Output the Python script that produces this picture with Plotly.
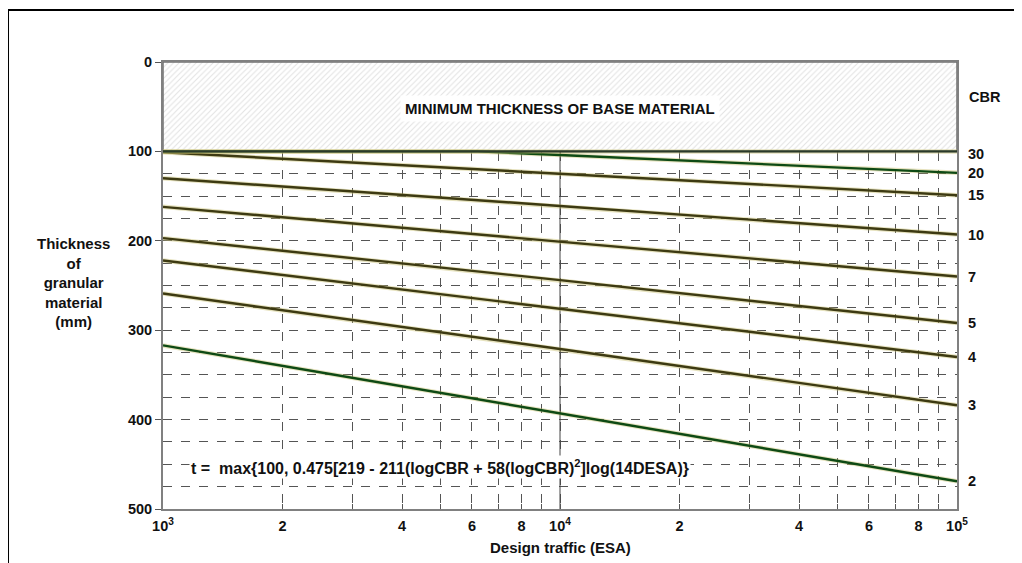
import plotly.graph_objects as go

# ---------------- data ----------------
traffic = [1e3, 1e4, 1e5]                  # design traffic (ESA)
t_cbr2 = [317, 393, 469]
t_cbr3 = [259, 321, 384]
t_cbr4 = [222, 276, 330]
t_cbr5 = [197, 244, 292]
t_cbr7 = [162, 201, 240]
t_cbr10 = [130, 161, 193]
t_cbr15 = [101, 125, 149]
traffic_cbr20 = [1e3, 6.2e3, 1e4, 1e5]
t_cbr20 = [100, 100, 104, 124]
t_cbr30 = [100, 100, 100]

cbr_labels = ["2", "3", "4", "5", "7", "10", "15", "20", "30"]

x_tickvals = [1e3, 2e3, 3e3, 4e3, 5e3, 6e3, 7e3, 8e3, 9e3,
              1e4, 2e4, 3e4, 4e4, 5e4, 6e4, 7e4, 8e4, 9e4, 1e5]
x_ticktext = ["10<sup>3</sup>", "2", "", "4", "", "6", "", "8", "",
              "10<sup>4</sup>", "2", "", "4", "", "6", "", "8", "",
              "10<sup>5</sup>"]
y_tickvals = [0, 100, 200, 300, 400, 500]

MIN_THICKNESS = 100
X_MIN, X_MAX = 1e3, 1e5
Y_MAX = 500
DECADE = 1e4

FONT = "Liberation Sans, Arial, sans-serif"
OLIVE = "#3d3a12"
GREEN = "#0e4a14"
GLOW = "rgba(200,190,110,0.45)"

fig = go.Figure()

# hatched "minimum thickness" zone
fig.add_trace(go.Scatter(
    x=[X_MIN, X_MAX, X_MAX, X_MIN, X_MIN],
    y=[0, 0, MIN_THICKNESS, MIN_THICKNESS, 0],
    mode="lines", fill="toself", fillcolor="white",
    fillpattern=dict(shape="/", fgcolor="#c4c4c4", bgcolor="white",
                     size=4, solidity=0.25),
    line=dict(color="#707070", width=1.5),
    hoverinfo="skip", showlegend=False))

# solid decade grid line at 10^4
fig.add_trace(go.Scatter(
    x=[DECADE, DECADE], y=[MIN_THICKNESS, Y_MAX], mode="lines",
    line=dict(color="#444444", width=1), hoverinfo="skip", showlegend=False))

series = [
    (traffic, t_cbr2, GREEN),
    (traffic, t_cbr3, OLIVE),
    (traffic, t_cbr4, OLIVE),
    (traffic, t_cbr5, OLIVE),
    (traffic, t_cbr7, OLIVE),
    (traffic, t_cbr10, OLIVE),
    (traffic, t_cbr15, OLIVE),
    (traffic_cbr20, t_cbr20, GREEN),
    (traffic, t_cbr30, "#2a3a2a"),
]

for (xs, ys, col), lab in zip(series, cbr_labels):
    fig.add_trace(go.Scatter(x=xs, y=ys, mode="lines",
                             line=dict(color=GLOW, width=4.5),
                             hoverinfo="skip", showlegend=False))
    fig.add_trace(go.Scatter(x=xs, y=ys, mode="lines", name="CBR " + lab,
                             line=dict(color=col, width=2.4),
                             showlegend=False))
    fig.add_annotation(x=1, xref="paper", y=ys[-1], yref="y",
                       text="<b>" + lab + "</b>", showarrow=False,
                       xanchor="left", xshift=9,
                       yshift=-3 if lab == "30" else 0,
                       font=dict(family=FONT, size=14.5, color="#111"))

fig.add_annotation(x=1, xref="paper", y=39, yref="y", text="<b>CBR</b>",
                   showarrow=False, xanchor="left", xshift=10,
                   font=dict(family=FONT, size=14.5, color="#111"))

fig.add_annotation(x=0.5, xref="paper", y=52, yref="y",
                   text="<b>MINIMUM THICKNESS OF BASE MATERIAL</b>",
                   showarrow=False, bgcolor="white", borderpad=4,
                   font=dict(family=FONT, size=15, color="#111"))

fig.add_annotation(x=0.0327, xref="paper", y=453, yref="y",
                   text="<b>t =  max{100, 0.475[219 - 211(logCBR + 58(logCBR)"
                        "<sup>2</sup>]log(14DESA)}</b>",
                   showarrow=False, xanchor="left", bgcolor="white",
                   font=dict(family=FONT, size=16, color="#111"))

fig.add_annotation(x=-0.113, xref="paper", y=0.617, yref="paper",
                   text="<b>Thickness<br>of<br>granular<br>material<br>(mm)</b>",
                   showarrow=False, align="center", xanchor="center",
                   yanchor="top",
                   font=dict(family=FONT, size=15, color="#111"))

fig.add_annotation(x=0.5, xref="paper", y=-0.087, yref="paper",
                   text="<b>Design traffic (ESA)</b>", showarrow=False,
                   yanchor="middle",
                   font=dict(family=FONT, size=15, color="#111"))

# outer frame (cropped at right/bottom in the reference)
fig.add_shape(type="rect", xref="paper", yref="paper",
              x0=-0.1952, x1=1.3, y0=-0.3, y1=1.1163,
              line=dict(color="black", width=2), layer="below")

fig.update_layout(
    width=1022, height=563,
    margin=dict(l=155, r=73, t=54, b=62),
    paper_bgcolor="white", plot_bgcolor="white",
    font=dict(family=FONT, color="#111"),
    xaxis=dict(type="log", range=[3, 5], tickvals=x_tickvals,
               ticktext=x_ticktext, tickangle=0,
               tickfont=dict(family=FONT, size=14.5, weight="bold"),
               ticks="inside", ticklen=5, tickcolor="#555",
               ticklabelstandoff=3,
               showgrid=True, gridcolor="#555", griddash="dash",
               gridwidth=1, showline=True, linecolor="#808080",
               linewidth=2, mirror=True, zeroline=False),
    yaxis=dict(range=[Y_MAX, 0], tickvals=y_tickvals,
               tickfont=dict(family=FONT, size=14.5, weight="bold"),
               ticks="outside", ticklen=6, tickcolor="#555",
               showgrid=True, gridcolor="#555", griddash="dash",
               gridwidth=1,
               minor=dict(dtick=25, showgrid=True, gridcolor="#555",
                          griddash="dash", gridwidth=1, ticks=""),
               showline=True, linecolor="#808080", linewidth=2,
               mirror=True, zeroline=False),
)

fig.write_html("out.html")
